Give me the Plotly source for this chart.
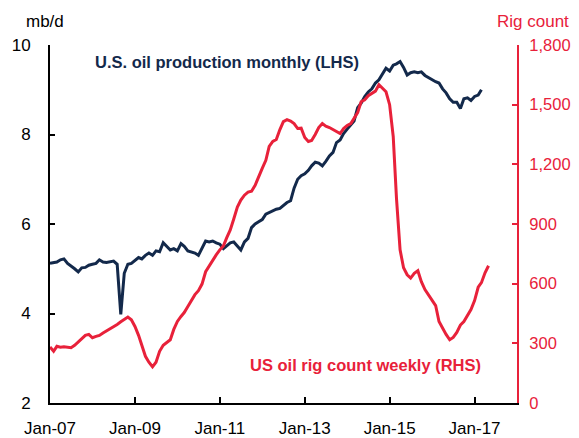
import plotly.graph_objects as go
import pandas as pd

# U.S. oil production, mb/d, monthly from Jan-07
production = [
    5.12, 5.13, 5.15, 5.20, 5.22, 5.12, 5.05, 5.00, 4.93, 5.02,
    5.03, 5.08, 5.10, 5.12, 5.20, 5.15, 5.14, 5.15, 5.17, 5.10,
    3.98, 4.90, 5.10, 5.12, 5.18, 5.25, 5.22, 5.30, 5.35, 5.30,
    5.40, 5.38, 5.58, 5.50, 5.42, 5.45, 5.40, 5.56, 5.50, 5.40,
    5.38, 5.35, 5.30, 5.45, 5.62, 5.60, 5.62, 5.58, 5.55, 5.45,
    5.52, 5.58, 5.60, 5.50, 5.42, 5.60, 5.68, 5.92, 6.00, 6.05,
    6.10, 6.22, 6.26, 6.30, 6.33, 6.35, 6.42, 6.48, 6.52, 6.80,
    7.00, 7.08, 7.12, 7.20, 7.30, 7.38, 7.36, 7.30, 7.40, 7.52,
    7.60, 7.82, 7.88, 8.02, 8.12, 8.22, 8.30, 8.60, 8.70, 8.85,
    8.95, 9.02, 9.15, 9.22, 9.35, 9.48, 9.42, 9.55, 9.58, 9.63,
    9.50, 9.33, 9.38, 9.40, 9.38, 9.40, 9.32, 9.27, 9.22, 9.18,
    9.15, 9.02, 8.93, 8.80, 8.72, 8.72, 8.58, 8.80, 8.82, 8.76,
    8.85, 8.88, 9.00,
]

# US oil rig count (sampled monthly from the weekly line), from Jan-07
rig_count = [
    282, 260, 285, 280, 283, 282, 278, 290, 307, 325,
    340, 345, 328, 335, 340, 352, 362, 375, 382, 395,
    408, 420, 432, 418, 385, 340, 285, 235, 205, 182,
    205, 260, 290, 305, 318, 370, 410, 435, 455, 485,
    515, 545, 565, 598, 660, 690, 715, 745, 770, 790,
    830, 870, 925, 985, 1020, 1045, 1060, 1065, 1095, 1140,
    1180, 1220, 1290, 1315, 1325, 1375, 1415, 1425, 1418, 1405,
    1380, 1382, 1335, 1315, 1320, 1350, 1385, 1405, 1392, 1385,
    1375, 1365, 1355, 1380, 1395, 1405, 1430, 1460, 1515, 1525,
    1545, 1555, 1568, 1600, 1580, 1565, 1500, 1340, 1030, 770,
    680, 645, 628, 652, 665, 610, 570, 545, 520, 490,
    410, 375, 345, 318, 330, 355, 392, 410, 440, 470,
    515, 582, 605, 655, 690,
]

tick_dates = ["2007-01-01", "2009-01-01", "2011-01-01", "2013-01-01", "2015-01-01", "2017-01-01"]
tick_labels = ["Jan-07", "Jan-09", "Jan-11", "Jan-13", "Jan-15", "Jan-17"]
left_ticks = [2, 4, 6, 8, 10]
right_ticks = [0, 300, 600, 900, 1200, 1500, 1800]

prod_dates = pd.date_range("2007-01-01", periods=len(production), freq="MS")
rig_dates = pd.date_range("2007-01-01", periods=len(rig_count), freq="MS")

NAVY = "#13294b"
RED = "#e8213a"
FONT = "Liberation Sans, Arial, sans-serif"

fig = go.Figure()
fig.add_trace(go.Scatter(x=rig_dates, y=rig_count, yaxis="y2", mode="lines",
                         line=dict(color=RED, width=3), name="US oil rig count weekly (RHS)"))
fig.add_trace(go.Scatter(x=prod_dates, y=production, mode="lines",
                         line=dict(color=NAVY, width=3), name="U.S. oil production monthly (LHS)"))

# page has an 8px body margin, so the figure is sized/offset to compensate
fig.update_layout(
    width=571, height=430,
    margin=dict(l=42, r=62, t=37, b=35),
    paper_bgcolor="white", plot_bgcolor="white",
    showlegend=False,
    font=dict(family=FONT, size=17, color="black"),
    xaxis=dict(
        range=["2007-01-01", "2018-01-01"],
        tickvals=tick_dates, ticktext=tick_labels,
        showgrid=False, zeroline=False, automargin=False,
        showline=True, linecolor="black", linewidth=2,
        ticks="inside", ticklen=6, tickwidth=1.5, tickcolor="black",
        ticklabelstandoff=9,
    ),
    yaxis=dict(
        range=[2, 10], tickvals=left_ticks,
        showgrid=False, zeroline=False, automargin=False,
        showline=True, linecolor="black", linewidth=2,
        ticks="inside", ticklen=5, tickwidth=1.5, tickcolor="black",
        ticklabelstandoff=14,
    ),
    yaxis2=dict(
        range=[0, 1800], tickvals=right_ticks, tickformat=",",
        overlaying="y", side="right",
        showgrid=False, zeroline=False, automargin=False,
        showline=True, linecolor=RED, linewidth=2,
        ticks="inside", ticklen=5, tickwidth=1.5, tickcolor=RED,
        tickfont=dict(color=RED, size=16.5),
        ticklabelstandoff=7,
    ),
    annotations=[
        dict(text="mb/d", xref="paper", yref="paper", x=-0.01, y=1.065,
             xanchor="center", yanchor="middle", showarrow=False,
             font=dict(size=17, color="black")),
        dict(text="Rig count", xref="paper", yref="paper", x=1.035, y=1.065,
             xanchor="center", yanchor="middle", showarrow=False,
             font=dict(size=17, color=RED)),
        dict(text="<b>U.S. oil production monthly (LHS)</b>", xref="paper", yref="paper",
             x=(93 - 50) / 467, y=(403 - 62) / 358, xanchor="left", yanchor="middle",
             showarrow=False, font=dict(size=16.5, color=NAVY)),
        dict(text="<b>US oil rig count weekly (RHS)</b>", xref="paper", yref="paper",
             x=(483 - 50) / 467, y=(403 - 365) / 358, xanchor="right", yanchor="middle",
             showarrow=False, font=dict(size=16.5, color=RED)),
    ],
)

fig.write_html("out.html")
